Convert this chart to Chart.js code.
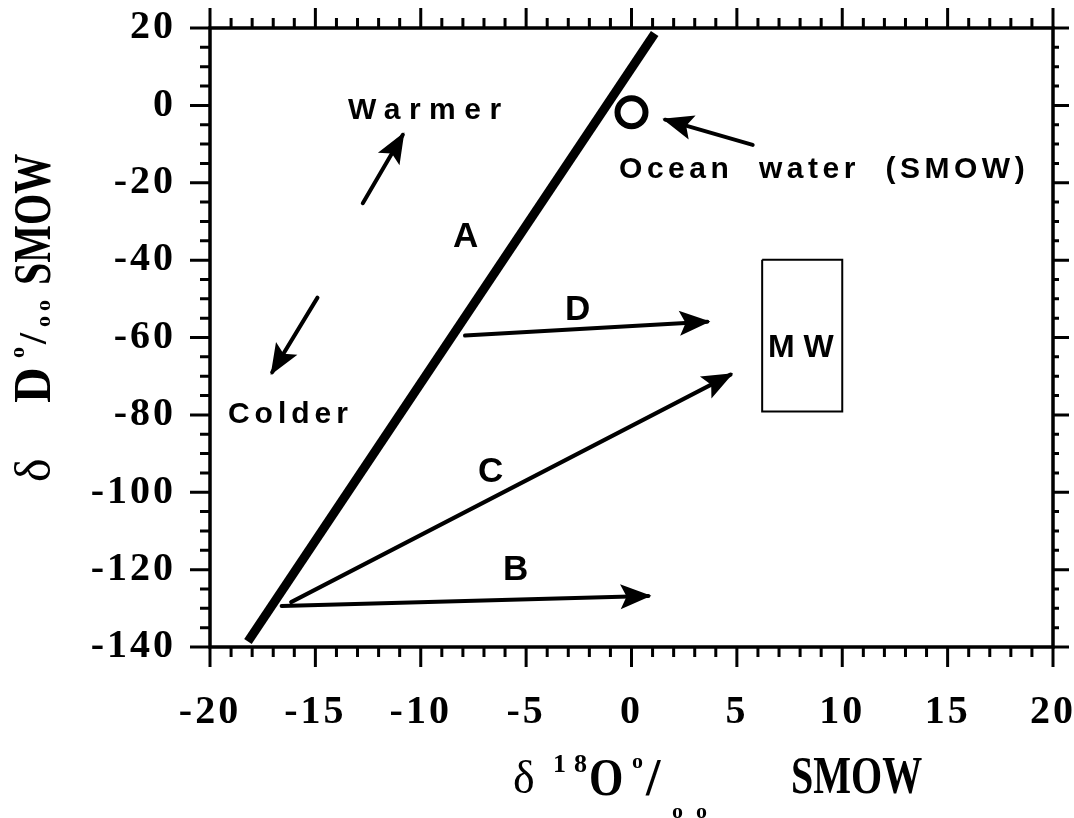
<!DOCTYPE html>
<html>
<head>
<meta charset="utf-8">
<script src="https://cdn.jsdelivr.net/npm/chart.js@4/dist/chart.umd.min.js"></script>
<style>
  html, body { margin: 0; padding: 0; background: #fff; }
  canvas { display: block; }
</style>
</head>
<body>
<canvas id="chart" width="1074" height="818"></canvas>
<script>
// line A (meteoric water line)
const lineAX = [-18.2, 1.1];
const lineAY = [-138.6, 18.6];

// arrows, tail -> head
const arrowNames = ['B', 'C', 'D', 'Warmer', 'Colder', 'Ocean'];
const arrowFromX = [-16.6, -16.15, -7.9, -12.75, -14.9, 5.75];
const arrowFromY = [-129.4, -128.4, -59.5, -25.3, -49.7, -10.2];
const arrowToX = [0.8, 4.7, 3.6, -10.85, -17.05, 1.6];
const arrowToY = [-126.8, -69.6, -55.9, -7.6, -69.0, -3.7];

// ocean water (SMOW) point
const smowX = [0];
const smowY = [-1.8];

// MW box range
const mwX = [6.2, 10.0];
const mwY = [-79.1, -39.9];

// tick labels
const xTicks = [-20, -15, -10, -5, 0, 5, 10, 15, 20];
const yTicks = [-140, -120, -100, -80, -60, -40, -20, 0, 20];

// text notes (left edge x, centre y)
const noteText = ['Warmer', 'Colder', 'Ocean  water  (SMOW)', 'A', 'B', 'C', 'D', 'M W'];
const noteX = [-13.45, -19.15, -0.59, -8.47, -6.1, -7.28, -3.16, 6.48];
const noteY = [-0.65, -79.4, -15.9, -33.4, -119.4, -94.1, -52.3, -62.1];

const datasets = [];
datasets.push({
  label: 'A',
  data: lineAX.map((x, i) => ({ x: x, y: lineAY[i] })),
  showLine: true, borderColor: '#000', borderWidth: 9, pointRadius: 0,
  borderCapStyle: 'butt'
});
for (let i = 0; i < arrowNames.length; i++) {
  datasets.push({
    label: arrowNames[i],
    isArrow: true,
    data: [{ x: arrowFromX[i], y: arrowFromY[i] }, { x: arrowToX[i], y: arrowToY[i] }],
    showLine: true, borderColor: '#000', borderWidth: 4, pointRadius: 0,
    borderCapStyle: 'round'
  });
}
datasets.push({
  label: 'SMOW',
  data: smowX.map((x, i) => ({ x: x, y: smowY[i] })),
  pointRadius: 14, borderWidth: 6, pointBorderColor: '#000',
  pointBackgroundColor: 'rgba(0,0,0,0)'
});
datasets.push({
  label: 'MW',
  data: [
    { x: mwX[0], y: mwY[1] }, { x: mwX[1], y: mwY[1] },
    { x: mwX[1], y: mwY[0] }, { x: mwX[0], y: mwY[0] },
    { x: mwX[0], y: mwY[1] }
  ],
  showLine: true, borderColor: '#000', borderWidth: 2, pointRadius: 0
});

function txt(ctx, s, x, y, font, sx, spacing) {
  ctx.save();
  ctx.font = font;
  ctx.letterSpacing = spacing || '0px';
  ctx.textAlign = 'left';
  ctx.textBaseline = 'alphabetic';
  ctx.translate(x, y);
  ctx.scale(sx || 1, 1);
  ctx.fillText(s, 0, 0);
  ctx.restore();
}

function noPad(s) {
  s.paddingLeft = 0; s.paddingRight = 0; s.paddingTop = 0; s.paddingBottom = 0;
}

const framePlugin = {
  id: 'frame',
  beforeDraw(chart) {
    chart.ctx.letterSpacing = '3px';
  },
  afterDatasetsDraw(chart) {
    const ctx = chart.ctx;
    const xs = chart.scales.x, ys = chart.scales.y;
    ctx.save();
    ctx.letterSpacing = '0px';
    // arrow heads
    chart.data.datasets.forEach((ds, i) => {
      if (!ds.isArrow) return;
      const pts = chart.getDatasetMeta(i).data;
      const a = pts[0], b = pts[1];
      const ang = Math.atan2(b.y - a.y, b.x - a.x);
      const dx = Math.cos(ang), dy = Math.sin(ang);
      const L = 31, W = 12.5;
      const tx = b.x + dx * 3, ty = b.y + dy * 3;
      ctx.beginPath();
      ctx.moveTo(tx, ty);
      ctx.lineTo(tx - dx * L - dy * W, ty - dy * L + dx * W);
      ctx.lineTo(tx - dx * L * 0.8, ty - dy * L * 0.8);
      ctx.lineTo(tx - dx * L + dy * W, ty - dy * L - dx * W);
      ctx.closePath();
      ctx.fillStyle = '#000';
      ctx.fill();
    });
    // notes
    ctx.fillStyle = '#000';
    ctx.textAlign = 'left';
    ctx.textBaseline = 'alphabetic';
    noteText.forEach((t, i) => {
      let size = 30, sp = '5px';
      if (t === 'Warmer') sp = '8.5px';
      if (t.startsWith('Ocean')) sp = '4.5px';
      if (t.length === 1) { size = 35; sp = '0px'; }
      if (t === 'M W') { size = 32; sp = '0px'; }
      ctx.font = 'bold ' + size + 'px "Liberation Sans", Arial, sans-serif';
      ctx.letterSpacing = sp;
      const px = xs.getPixelForValue(noteX[i]);
      const py = ys.getPixelForValue(noteY[i]);
      ctx.fillText(t, px, py + size * 0.716 / 2);
    });
    ctx.restore();
  },
  afterDraw(chart) {
    const ctx = chart.ctx;
    const ca = chart.chartArea;
    const xs = chart.scales.x, ys = chart.scales.y;
    ctx.save();
    ctx.letterSpacing = '0px';
    ctx.strokeStyle = '#000';
    ctx.lineWidth = 3.5;
    ctx.strokeRect(ca.left, ca.top, ca.right - ca.left, ca.bottom - ca.top);
    ctx.lineWidth = 3;
    ctx.beginPath();
    for (let v = -20; v <= 20; v++) {
      const px = xs.getPixelForValue(v);
      const len = v % 5 === 0 ? 20 : 10;
      ctx.moveTo(px, ca.bottom); ctx.lineTo(px, ca.bottom + len);
      ctx.moveTo(px, ca.top); ctx.lineTo(px, ca.top - len);
    }
    for (let v = -140; v <= 20; v += 5) {
      const py = ys.getPixelForValue(v);
      const len = v % 20 === 0 ? 20 : 10;
      ctx.moveTo(ca.left, py); ctx.lineTo(ca.left - len, py);
      ctx.moveTo(ca.right, py); ctx.lineTo(ca.right + len - 4, py);
    }
    ctx.stroke();

    ctx.fillStyle = '#000';
    const serif = '"Liberation Serif", "Times New Roman", serif';
    // x axis title
    txt(ctx, 'δ', 513, 793, '46px ' + serif);
    txt(ctx, '1', 553, 772, 'bold 26px ' + serif);
    txt(ctx, '8', 574, 772, 'bold 26px ' + serif);
    txt(ctx, 'O', 589, 795, 'bold 52px ' + serif, 0.85);
    txt(ctx, 'o', 632, 768, 'bold 22px ' + serif);
    txt(ctx, '/', 646, 795, 'bold 52px ' + serif);
    txt(ctx, 'o', 672, 818, 'bold 22px ' + serif);
    txt(ctx, 'o', 696, 818, 'bold 22px ' + serif);
    txt(ctx, 'SMOW', 791, 793, 'bold 52px ' + serif, 0.77);

    // y axis title (rotated)
    ctx.save();
    ctx.translate(50, 482);
    ctx.rotate(-Math.PI / 2);
    txt(ctx, 'δ', 0, 0, '50px ' + serif);
    txt(ctx, 'D', 79, 0, 'bold 52px ' + serif, 0.95);
    txt(ctx, 'o', 124, -26, 'bold 22px ' + serif);
    txt(ctx, '/', 138, -4, 'bold 40px ' + serif);
    txt(ctx, 'o', 155, 0, 'bold 22px ' + serif);
    txt(ctx, 'o', 171, 0, 'bold 22px ' + serif);
    txt(ctx, 'SMOW', 197, 0, 'bold 52px ' + serif, 0.77);
    ctx.restore();
    ctx.restore();
  }
};

const tickFont = { family: '"Liberation Serif", "Times New Roman", serif', weight: 'bold', size: 40 };

new Chart(document.getElementById('chart'), {
  type: 'scatter',
  data: { datasets: datasets },
  options: {
    responsive: false,
    animation: false,
    events: [],
    layout: { padding: { top: 28, right: 21, left: 0, bottom: 0 } },
    plugins: { legend: { display: false }, tooltip: { enabled: false } },
    scales: {
      x: {
        type: 'linear', min: -20, max: 20,
        afterBuildTicks: s => { s.ticks = xTicks.map(v => ({ value: v })); },
        afterFit: s => { s.height = 171; noPad(s); },
        grid: { display: false, drawTicks: false },
        border: { display: false },
        ticks: { font: tickFont, color: '#000', padding: 42, maxRotation: 0, autoSkip: false }
      },
      y: {
        type: 'linear', min: -140, max: 20,
        afterBuildTicks: s => { s.ticks = yTicks.map(v => ({ value: v })); },
        afterFit: s => { s.width = 210; noPad(s); },
        grid: { display: false, drawTicks: false },
        border: { display: false },
        ticks: { font: tickFont, color: '#000', padding: 34, autoSkip: false }
      }
    }
  },
  plugins: [framePlugin]
});
</script>
</body>
</html>
